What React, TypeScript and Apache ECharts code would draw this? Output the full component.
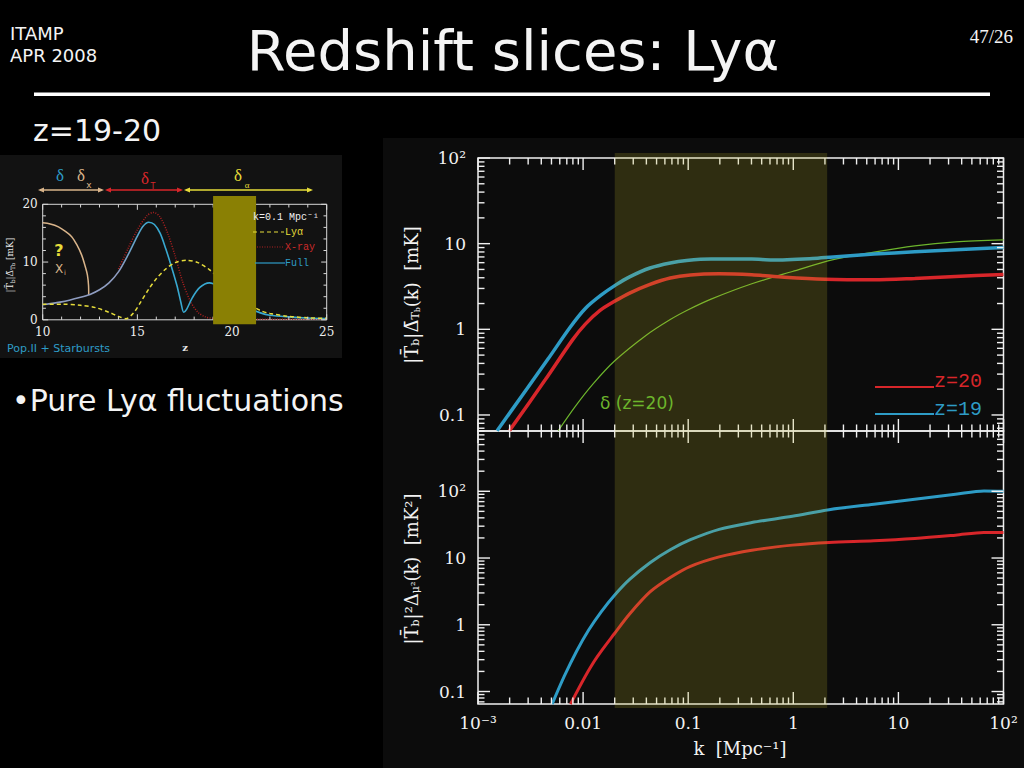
import React, { useEffect, useRef } from "react";
import * as echarts from "echarts";

// ---------- main panel axes ----------
const xTickValues = [0.001, 0.01, 0.1, 1, 10, 100];
const xTickLabels = ["10\u207b\u00b3", "0.01", "0.1", "1", "10", "10\u00b2"];
const yTickValues = [0.1, 1, 10, 100];
const yTickLabels = ["0.1", "1", "10", "10\u00b2"];

// ---------- upper panel: |Tb| Delta_Tb(k) [mK] ----------
const upperZ19: [number, number][] = [
  [0.00152, 0.0656], [0.00465, 0.452], [0.0075, 1.05], [0.0105, 1.75], [0.0148, 2.5],
  [0.0205, 3.3], [0.0277, 4.1], [0.0433, 5.2], [0.0675, 5.95], [0.0965, 6.35],
  [0.165, 6.6], [0.403, 6.6], [0.63, 6.43], [1.53, 6.7], [2.4, 7.0], [5.85, 7.55],
  [14.3, 8.04], [34.9, 8.49], [100, 9.04],
];
const upperZ20: [number, number][] = [
  [0.00199, 0.0656], [0.00436, 0.257], [0.00793, 0.753], [0.0105, 1.15], [0.0145, 1.66],
  [0.0199, 2.12], [0.0277, 2.65], [0.0433, 3.35], [0.0675, 3.98], [0.105, 4.32],
  [0.197, 4.45], [0.403, 4.33], [0.823, 4.06], [2.0, 3.85], [5.85, 3.79], [14.3, 3.93],
  [34.9, 4.14], [100, 4.37],
];
const upperDelta: [number, number][] = [
  [0.00581, 0.0656], [0.0085, 0.1276], [0.0125, 0.232], [0.0199, 0.426], [0.0396, 0.847],
  [0.0675, 1.3], [0.1, 1.69], [0.165, 2.25], [0.403, 3.4], [0.98, 4.73], [2.4, 6.5],
  [5.85, 7.96], [14.3, 9.44], [34.9, 10.5], [100, 11.1],
];

// ---------- lower panel: |Tb|^2 Delta_mu2(k) [mK^2] ----------
const lowerZ19: [number, number][] = [
  [0.00507, 0.0647], [0.00664, 0.171], [0.00867, 0.402], [0.0113, 0.834], [0.0148, 1.55],
  [0.0199, 2.77], [0.0277, 4.78], [0.0433, 8.5], [0.0675, 13.3], [0.105, 18.8],
  [0.197, 26.9], [0.403, 34], [0.98, 42.3], [2.19, 53], [5.85, 64], [14.3, 75.9],
  [34.9, 90], [65.2, 101], [100, 100],
];
const lowerZ20: [number, number][] = [
  [0.00759, 0.0647], [0.0104, 0.165], [0.0136, 0.33], [0.0199, 0.74], [0.0277, 1.45],
  [0.0433, 3.1], [0.0675, 5.1], [0.105, 7.5], [0.197, 10.4], [0.403, 13.1],
  [0.98, 15.6], [2.19, 17.1], [5.85, 18.1], [14.3, 19.6], [34.9, 22], [65.2, 24.1],
  [100, 24.1],
];
const lyaBand = [0.02, 2.1];

// ---------- inset: |Tb| Delta_Tb at k = 0.1 Mpc^-1 vs z ----------
const insetFull: [number, number][] = [
  [10, 2.6], [11, 3.1], [12, 3.9], [12.5, 4.4], [13, 5.2], [13.5, 6.4], [14, 8.3],
  [14.5, 11.2], [15, 14.5], [15.3, 16.2], [15.6, 16.9], [15.9, 16.5], [16.2, 15],
  [16.5, 12.3], [16.8, 9.2], [17.1, 5.8], [17.3, 3], [17.45, 1.3], [17.6, 1.8],
  [17.9, 3.8], [18.3, 5.6], [18.8, 6.4], [19.3, 5.8], [20, 4.2], [20.5, 3],
  [21, 1.9], [21.5, 1.2], [22, 0.8], [23, 0.5], [24, 0.3], [25, 0.2],
];
const insetLya: [number, number][] = [
  [10, 2.7], [11, 2.7], [12, 2.5], [12.8, 2.1], [13.5, 1.3], [14, 0.6], [14.4, 0.2],
  [14.8, 1.2], [15.2, 3.2], [15.6, 5.3], [16, 7.1], [16.5, 8.8], [17, 9.9],
  [17.6, 10.3], [18.2, 9.9], [18.8, 8.7], [19.4, 6.9], [20, 5], [20.5, 3.6],
  [21, 2.5], [21.5, 1.6], [22, 1.1], [23, 0.6], [24, 0.35], [25, 0.25],
];
const insetXray: [number, number][] = [
  [14.0, 8.8], [14.5, 12.3], [15, 15.6], [15.5, 18], [15.85, 18.6], [16.2, 17.8],
  [16.6, 15], [17, 11], [17.4, 6.5], [17.8, 3.2], [18.2, 1.3], [18.6, 0.5],
  [19, 0.25], [20, 0.15], [22, 0.1], [25, 0.1],
];
const insetXi: [number, number][] = [
  [10, 16.8], [10.4, 16.6], [10.83, 16.1], [11.2, 15.3], [11.53, 14.4], [11.8, 13],
  [12.06, 11.2], [12.25, 9.2], [12.36, 7.8], [12.42, 6], [12.43, 4.3],
];
const insetBand = [19.0, 21.27];
const insetXTickValues = [10, 15, 20, 25];
const insetYTickValues = [0, 10, 20];

// ---------- styling ----------
const SANS = "'DejaVu Sans', sans-serif";
const SERIF = "'DejaVu Serif', serif";
const MONO = "'Liberation Mono', monospace";
const TIMES = "'Liberation Serif', serif";
const BLUE = "#2e9cc6";
const RED = "#d8262a";
const GREEN = "#6cb52c";
const TAN = "#d9b48a";
const YEL = "#e6dc3a";

const U_XMIN = 0.001, U_XMAX = 100, U_YMIN = 0.065, U_YMAX = 100, L_YMAX = 800;

function logTicks(lo: number, hi: number) {
  const out: [number, number][] = [];
  for (let e = -3; e <= 3; e++) {
    for (let m = 1; m <= 9; m++) {
      const v = m * Math.pow(10, e);
      if (v >= lo * 0.9999 && v <= hi * 1.0001) out.push([v, m === 1 ? 1 : 0]);
    }
  }
  return out;
}

function tickData(xt: [number, number][], yt: [number, number][], xMin: number, yMin: number) {
  const d: number[][] = [];
  xt.forEach(([v, maj]) => d.push([v, yMin, 0, maj]));
  yt.forEach(([v, maj]) => d.push([xMin, v, 1, maj]));
  return d;
}

const makeTickRender = (maj: number, min: number, color: string, w: number) => (params: any, api: any) => {
  const cs = params.coordSys;
  const kind = api.value(2);
  const L = api.value(3) ? maj : min;
  const p = api.coord([api.value(0), api.value(1)]);
  const style = { stroke: color, lineWidth: w };
  if (kind === 0) {
    const x = p[0];
    const b = cs.y + cs.height;
    return {
      type: "group",
      children: [
        { type: "line", shape: { x1: x, y1: b, x2: x, y2: b - L }, style },
        { type: "line", shape: { x1: x, y1: cs.y, x2: x, y2: cs.y + L }, style },
      ],
    };
  }
  const y = p[1];
  const r = cs.x + cs.width;
  return {
    type: "group",
    children: [
      { type: "line", shape: { x1: cs.x, y1: y, x2: cs.x + L, y2: y }, style },
      { type: "line", shape: { x1: r, y1: y, x2: r - L, y2: y }, style },
    ],
  };
};

const makeBandRender = (yRef: number, extTop: number, extBottom: number, fill: string) => (params: any, api: any) => {
  const cs = params.coordSys;
  const x0 = api.coord([api.value(0), yRef])[0];
  const x1 = api.coord([api.value(1), yRef])[0];
  return {
    type: "rect",
    shape: { x: x0, y: cs.y - extTop, width: x1 - x0, height: cs.height + extTop + extBottom },
    style: { fill },
  };
};

function labelFor(values: number[], labels: string[]) {
  return (v: number) => {
    const i = values.findIndex((t) => (t === 0 ? Math.abs(v) < 1e-9 : Math.abs(t - v) / Math.abs(t) < 1e-6));
    return i >= 0 ? labels[i] : "";
  };
}

function arrow(x1: number, x2: number, y: number, color: string) {
  const h = 6, w = 2.6;
  return [
    { type: "line", z: 100, shape: { x1: x1 + 2, y1: y, x2: x2 - 2, y2: y }, style: { stroke: color, lineWidth: 1.3 } },
    { type: "polygon", z: 100, shape: { points: [[x1, y], [x1 + h, y - w], [x1 + h, y + w]] }, style: { fill: color } },
    { type: "polygon", z: 100, shape: { points: [[x2, y], [x2 - h, y - w], [x2 - h, y + w]] }, style: { fill: color } },
  ];
}

function txt(x: number, y: number, text: string, size: number, family: string, fill: string, align = "left", extra: any = {}) {
  return {
    type: "text",
    z: 100,
    x,
    y,
    style: { text, fontSize: size, fontFamily: family, fill, align, verticalAlign: "middle", ...extra },
  };
}

function buildOption() {
  const upperTicks = tickData(logTicks(U_XMIN, U_XMAX), logTicks(U_YMIN, U_YMAX), U_XMIN, U_YMIN);
  const lowerTicks = tickData(logTicks(U_XMIN, U_XMAX), logTicks(U_YMIN, L_YMAX), U_XMIN, U_YMIN);
  const ixt: [number, number][] = [];
  for (let z = 10; z <= 25; z++) ixt.push([z, z % 5 === 0 ? 1 : 0]);
  const iyt: [number, number][] = [];
  for (let v = 0; v <= 20; v += 2) iyt.push([v, v % 10 === 0 ? 1 : 0]);
  const insetTicks = tickData(ixt, iyt, 10, 0);

  const mainLabel = { color: "#f2f2f2", fontSize: 17, fontFamily: SERIF };
  const yLabelFmt = labelFor(yTickValues, yTickLabels);
  const xLabelFmt = labelFor(xTickValues, xTickLabels);
  const insetXFmt = labelFor(insetXTickValues, insetXTickValues.map(String));
  const insetYFmt = labelFor(insetYTickValues, insetYTickValues.map(String));
  const hidden = { axisLine: { show: false }, axisTick: { show: false }, splitLine: { show: false } };

  const subRich = {
    s: { fontSize: 11, fontFamily: SERIF, fill: "#f2f2f2", padding: [9, 0, 0, 0] },
    ss: { fontSize: 8, fontFamily: SERIF, fill: "#f2f2f2", padding: [13, 0, 0, 0] },
  };

  const graphic: any[] = [
    { type: "rect", z: -1, shape: { x: 383, y: 138, width: 641, height: 630 }, style: { fill: "#0c0c0c" } },
    { type: "rect", z: -1, shape: { x: 0, y: 155, width: 342, height: 203 }, style: { fill: "#121212" } },
    // slide header
    txt(10, 33, "ITAMP", 18, SANS, "#f4f4f4"),
    txt(10, 55, "APR 2008", 18, SANS, "#f4f4f4"),
    txt(513, 50, "Redshift slices: Ly\u03b1", 56, SANS, "#f4f4f4", "center"),
    txt(1013, 36, "47/26", 19, TIMES, "#f4f4f4", "right"),
    { type: "rect", z: 100, shape: { x: 34, y: 92.5, width: 956, height: 3.5 }, style: { fill: "#ffffff" } },
    txt(33, 130, "z=19-20", 30, SANS, "#f4f4f4"),
    txt(12, 400, "\u2022Pure Ly\u03b1 fluctuations", 30, SANS, "#f4f4f4"),
    // main axis names
    {
      type: "text", z: 100, x: 411, y: 295, rotation: Math.PI / 2,
      style: {
        text: "|T\u0304{s|b}|\u0394\u0304{s|T}{ss|b}(k)  [mK]", fontSize: 18, fontFamily: SERIF, fill: "#f2f2f2",
        align: "center", verticalAlign: "middle", rich: subRich,
      },
    },
    {
      type: "text", z: 100, x: 411, y: 569, rotation: Math.PI / 2,
      style: {
        text: "|T\u0304{s|b}|\u00b2\u0394{s|\u03bc\u00b2}(k)  [mK\u00b2]", fontSize: 18, fontFamily: SERIF, fill: "#f2f2f2",
        align: "center", verticalAlign: "middle", rich: subRich,
      },
    },
    txt(740, 748, "k  [Mpc\u207b\u00b9]", 18, SERIF, "#f2f2f2", "center"),
    // main legend
    { type: "line", z: 100, shape: { x1: 875, y1: 387, x2: 934, y2: 387 }, style: { stroke: RED, lineWidth: 2 } },
    txt(934, 381, "z=20", 20, MONO, RED),
    { type: "line", z: 100, shape: { x1: 875, y1: 414, x2: 934, y2: 414 }, style: { stroke: BLUE, lineWidth: 2 } },
    txt(934, 409, "z=19", 20, MONO, BLUE),
    txt(600, 403, "\u03b4 (z=20)", 17, SANS, GREEN),
    // inset annotations
    txt(60, 175, "\u03b4", 17, TIMES, BLUE, "center"),
    txt(81, 175, "\u03b4", 17, TIMES, TAN, "center"),
    txt(89, 185, "x", 9, SANS, TAN, "center"),
    txt(145, 178, "\u03b4", 17, TIMES, RED, "center"),
    txt(153, 186, "T", 8, SANS, RED, "center"),
    txt(238, 175, "\u03b4", 17, TIMES, YEL, "center"),
    txt(247, 185, "\u03b1", 9, TIMES, YEL, "center"),
    ...arrow(38, 104, 190, TAN),
    ...arrow(105, 183, 190, RED),
    ...arrow(184, 313, 190, YEL),
    txt(59, 250, "?", 16, SANS, YEL, "center", { fontWeight: "bold" }),
    txt(59, 269, "X", 12, SANS, TAN, "center"),
    txt(65, 273, "i", 7, SANS, TAN, "center"),
    txt(7, 348, "Pop.II + Starbursts", 11, SANS, BLUE),
    txt(185, 347, "z", 10, SERIF, "#e8e8e8", "center", { fontWeight: "bold" }),
    {
      type: "text", z: 100, x: 10, y: 265, rotation: Math.PI / 2,
      style: {
        text: "|T\u0304{a|b}|\u0394\u0304{a|T}{b|b} [mK]", fontSize: 9, fontFamily: SERIF, fill: "#e8e8e8",
        align: "center", verticalAlign: "middle",
        rich: { a: { fontSize: 6, fontFamily: SERIF, fill: "#e8e8e8", padding: [4, 0, 0, 0] }, b: { fontSize: 5, fontFamily: SERIF, fill: "#e8e8e8", padding: [6, 0, 0, 0] } },
      },
    },
    txt(253, 217, "k=0.1 Mpc\u207b\u00b9", 10, MONO, "#f0f0f0"),
    { type: "line", z: 100, shape: { x1: 253, y1: 232, x2: 284, y2: 232 }, style: { stroke: YEL, lineWidth: 1.2, lineDash: [4, 3] } },
    txt(285, 232, "Ly\u03b1", 10, MONO, YEL),
    { type: "line", z: 100, shape: { x1: 257, y1: 247, x2: 284, y2: 247 }, style: { stroke: "#b02020", lineWidth: 1.2, lineDash: [1, 1.5] } },
    txt(285, 247, "X-ray", 10, MONO, "#cc2a2a"),
    { type: "line", z: 100, shape: { x1: 255, y1: 263, x2: 285, y2: 263 }, style: { stroke: BLUE, lineWidth: 1.2 } },
    txt(285, 263, "Full", 10, MONO, BLUE),
  ];

  const fullGradient = new echarts.graphic.LinearGradient(0, 0, 1, 0, [
    { offset: 0, color: "#8e9cc0" },
    { offset: 0.27, color: "#8e9cc0" },
    { offset: 0.38, color: "#38a8d0" },
    { offset: 1, color: "#38a8d0" },
  ]);

  const lineBase = { type: "line", symbol: "none", showSymbol: false, smooth: 0.3, animation: false };

  return {
    animation: false,
    backgroundColor: "#000000",
    graphic,
    grid: [
      { left: 478, top: 158, width: 525.5, height: 273, show: true, borderColor: "#f0f0f0", borderWidth: 1.5, backgroundColor: "transparent" },
      { left: 478, top: 431, width: 525.5, height: 273, show: true, borderColor: "#f0f0f0", borderWidth: 1.5, backgroundColor: "transparent" },
      { left: 42.7, top: 204.3, width: 284, height: 115.5, show: true, borderColor: "#d8d8d8", borderWidth: 1, backgroundColor: "transparent" },
    ],
    xAxis: [
      { gridIndex: 0, type: "log", logBase: 10, min: U_XMIN, max: U_XMAX, axisLabel: { show: false }, ...hidden },
      { gridIndex: 1, type: "log", logBase: 10, min: U_XMIN, max: U_XMAX, axisLabel: { ...mainLabel, margin: 10, formatter: xLabelFmt }, ...hidden },
      { gridIndex: 2, type: "value", min: 10, max: 25, interval: 5, axisLabel: { color: "#eeeeee", fontSize: 12, fontFamily: SERIF, margin: 6, formatter: insetXFmt }, ...hidden },
    ],
    yAxis: [
      { gridIndex: 0, type: "log", logBase: 10, min: U_YMIN, max: U_YMAX, axisLabel: { ...mainLabel, margin: 12, formatter: yLabelFmt }, ...hidden },
      { gridIndex: 1, type: "log", logBase: 10, min: U_YMIN, max: L_YMAX, axisLabel: { ...mainLabel, margin: 12, formatter: yLabelFmt }, ...hidden },
      { gridIndex: 2, type: "value", min: 0, max: 20, interval: 10, axisLabel: { color: "#eeeeee", fontSize: 12, fontFamily: SERIF, margin: 5, formatter: insetYFmt }, ...hidden },
    ],
    series: [
      // ticks
      { type: "custom", xAxisIndex: 0, yAxisIndex: 0, z: 5, silent: true, renderItem: makeTickRender(12, 6.5, "#f0f0f0", 1.4), data: upperTicks },
      { type: "custom", xAxisIndex: 1, yAxisIndex: 1, z: 5, silent: true, renderItem: makeTickRender(12, 6.5, "#f0f0f0", 1.4), data: lowerTicks },
      { type: "custom", xAxisIndex: 2, yAxisIndex: 2, z: 5, silent: true, renderItem: makeTickRender(5.5, 3.2, "#d8d8d8", 1), data: insetTicks },
      // upper panel
      { ...lineBase, name: "\u03b4 (z=20)", xAxisIndex: 0, yAxisIndex: 0, data: upperDelta, lineStyle: { color: GREEN, width: 1.2 } },
      { ...lineBase, name: "z=20", xAxisIndex: 0, yAxisIndex: 0, data: upperZ20, lineStyle: { color: RED, width: 3.5 } },
      { ...lineBase, name: "z=19", xAxisIndex: 0, yAxisIndex: 0, data: upperZ19, lineStyle: { color: BLUE, width: 3.5 } },
      // lower panel
      { ...lineBase, name: "z=20 lower", xAxisIndex: 1, yAxisIndex: 1, data: lowerZ20, lineStyle: { color: RED, width: 3 } },
      { ...lineBase, name: "z=19 lower", xAxisIndex: 1, yAxisIndex: 1, data: lowerZ19, lineStyle: { color: BLUE, width: 3 } },
      // Ly-alpha band in main panels
      { type: "custom", xAxisIndex: 0, yAxisIndex: 0, z: 10, silent: true, renderItem: makeBandRender(1, 5, 0, "rgba(190,180,40,0.2)"), data: [lyaBand] },
      { type: "custom", xAxisIndex: 1, yAxisIndex: 1, z: 10, silent: true, renderItem: makeBandRender(1, 0, 4, "rgba(190,180,40,0.2)"), data: [lyaBand] },
      // inset
      { ...lineBase, name: "Xi", xAxisIndex: 2, yAxisIndex: 2, data: insetXi, lineStyle: { color: TAN, width: 1.5 } },
      { ...lineBase, name: "X-ray", xAxisIndex: 2, yAxisIndex: 2, data: insetXray, lineStyle: { color: "#b02020", width: 1.5, type: [1, 1.5] } },
      { ...lineBase, name: "Full", xAxisIndex: 2, yAxisIndex: 2, data: insetFull, lineStyle: { color: fullGradient, width: 1.6 } },
      { ...lineBase, name: "Ly\u03b1", xAxisIndex: 2, yAxisIndex: 2, data: insetLya, lineStyle: { color: YEL, width: 1.5, type: [4, 3] } },
      { type: "custom", xAxisIndex: 2, yAxisIndex: 2, z: 10, silent: true, renderItem: makeBandRender(10, 8.3, 4.5, "#8a8004"), data: [insetBand] },
    ],
  };
}

export default function App() {
  const ref = useRef<HTMLDivElement>(null);
  useEffect(() => {
    const chart = echarts.init(ref.current!, null, { renderer: "svg" });
    chart.setOption(buildOption() as any);
    return () => chart.dispose();
  }, []);
  return (
    <div
      ref={ref}
      style={{ position: "fixed", left: 0, top: 0, width: 1024, height: 768, background: "#000" }}
    />
  );
}
